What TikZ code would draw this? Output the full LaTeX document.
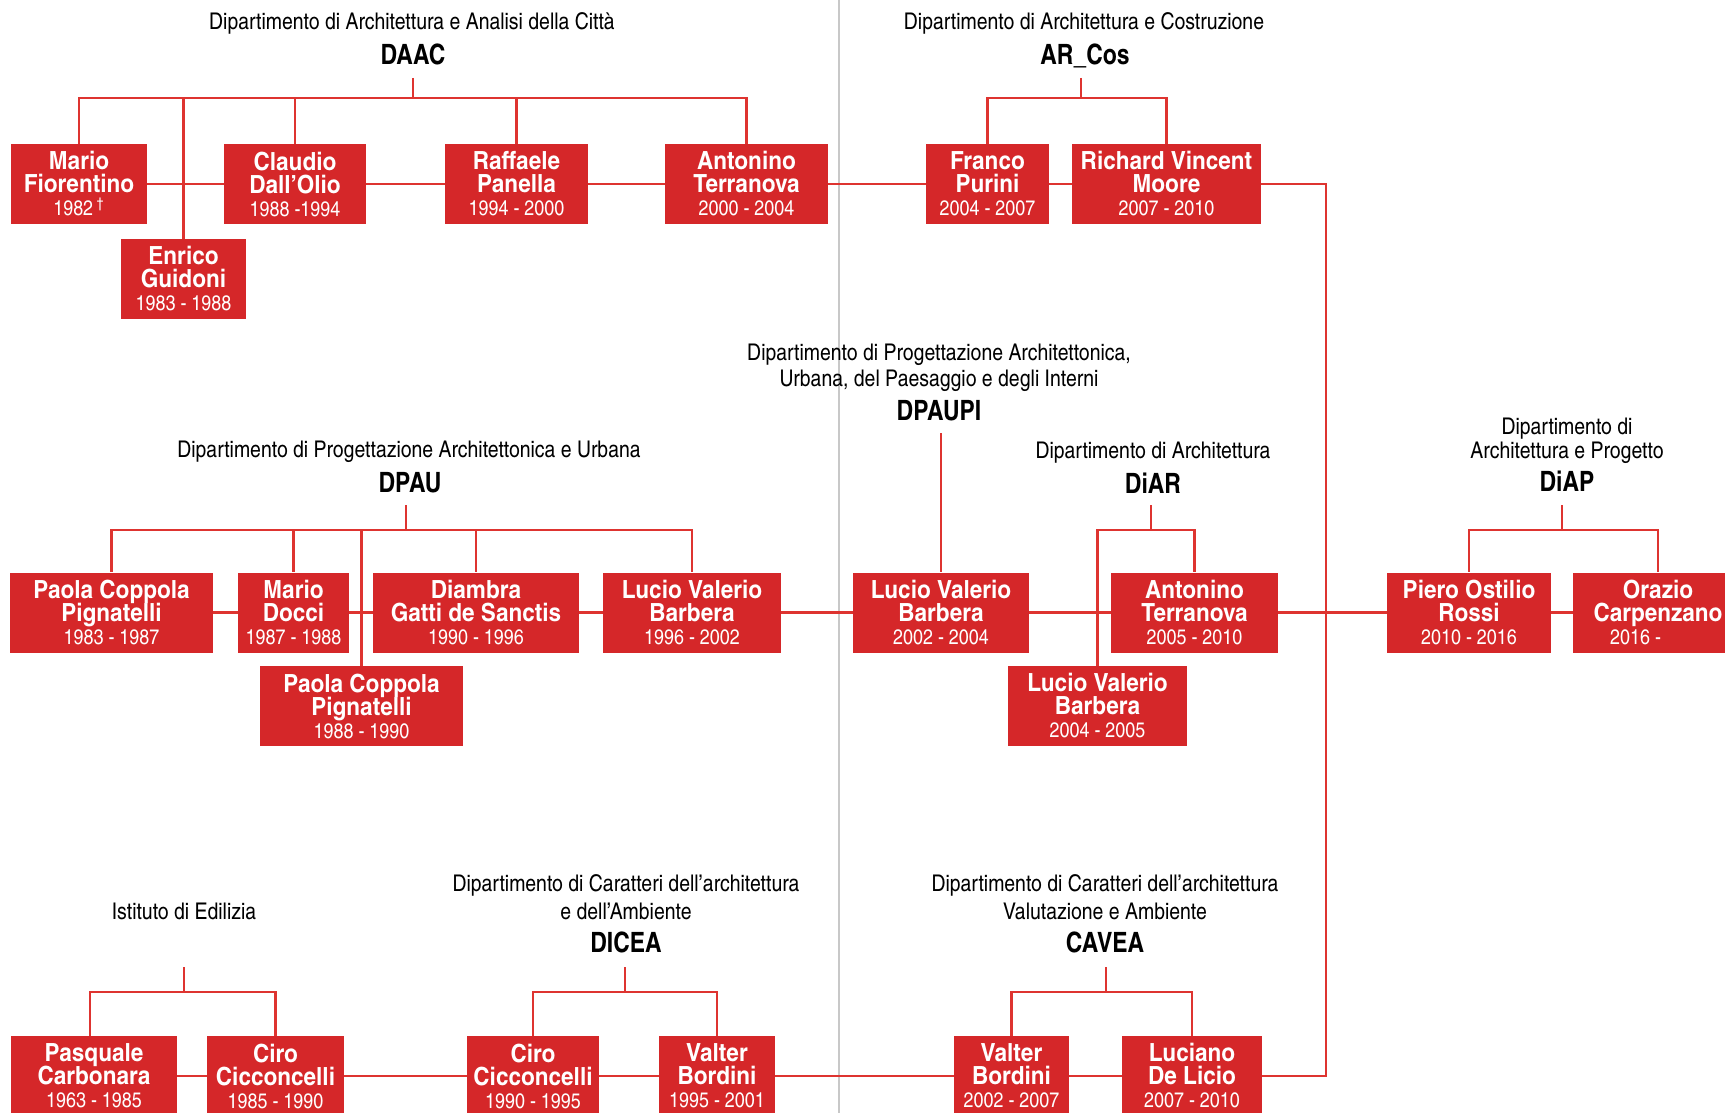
\documentclass[tikz,border=0pt]{standalone}
\usepackage{fontspec}
\setmainfont{texgyreheroscn-regular.otf}[BoldFont=texgyreheroscn-bold.otf]
\newfontfamily\ttlfam{texgyreheroscn-regular.otf}[FakeStretch=1.03]
\newfontfamily\namefam{texgyreheroscn-bold.otf}[FakeStretch=1.1]
\newfontfamily\yearfam{texgyreheroscn-regular.otf}[FakeStretch=1.04]
\definecolor{boxred}{RGB}{213,39,41}
\definecolor{linkred}{RGB}{222,52,48}
\definecolor{sepgray}{RGB}{200,200,200}
\newcommand\nmfont{\fontsize{12.5pt}{11.5pt}\namefam\lineskiplimit=-10pt}
\newcommand\yrfnt{\fontsize{10.5pt}{11.5pt}\yearfam}
\newcommand\ttlfnt{\fontsize{11.5pt}{13pt}\ttlfam}
\newcommand\acrfnt{\fontsize{14pt}{16pt}\selectfont\bfseries}
\tikzset{
  box/.style={fill=boxred, text=white, font=\nmfont, align=center, inner sep=0pt, minimum height=40pt},
  bw/.style={minimum width=#1*0.5pt},
  link/.style={draw=linkred, line width=1.2pt},
  ttl/.style={font=\ttlfnt, anchor=base, inner sep=0pt},
  acr/.style={font=\acrfnt, anchor=base, inner sep=0pt},
}
\begin{document}
\begin{tikzpicture}[x=0.5pt, y=-0.5pt]
\useasboundingbox (0,0) rectangle (1725,1113);
% separator
\coordinate (septop) at (839,0);
\coordinate (sepbot) at (839,1113);
\draw[sepgray, line width=0.75pt] (septop) -- (sepbot);

% ---------- titles ----------
\node[ttl] (t1) at (412,30) {Dipartimento di Architettura e Analisi della Città};
\node[acr] (daac) at (413,65) {DAAC};
\node[ttl] (t2) at (1084,30) {Dipartimento di Architettura e Costruzione};
\node[acr] (arcos) at (1085,65) {AR\_Cos};
\node[ttl] (t3) at (409,457) {Dipartimento di Progettazione Architettonica e Urbana};
\node[acr] (dpau) at (410,492) {DPAU};
\node[ttl] (t4a) at (939,360) {Dipartimento di Progettazione Architettonica,};
\node[ttl] (t4b) at (939,386) {Urbana, del Paesaggio e degli Interni};
\node[acr] (dpaupi) at (939,420) {DPAUPI};
\node[ttl] (t5) at (1153,458) {Dipartimento di Architettura};
\node[acr] (diar) at (1153,493) {DiAR};
\node[ttl] (t6a) at (1567,434) {Dipartimento di};
\node[ttl] (t6b) at (1567,458) {Architettura e Progetto};
\node[acr] (diap) at (1567,491) {DiAP};
\node[ttl] (t7) at (184,919) {Istituto di Edilizia};
\node[ttl] (t8a) at (626,891) {Dipartimento di Caratteri dell’architettura};
\node[ttl] (t8b) at (626,919) {e dell’Ambiente};
\node[acr] (dicea) at (626,952) {DICEA};
\node[ttl] (t9a) at (1105,891) {Dipartimento di Caratteri dell’architettura};
\node[ttl] (t9b) at (1105,919) {Valutazione e Ambiente};
\node[acr] (cavea) at (1105,952) {CAVEA};

% ---------- boxes row 1 ----------
\node[box, bw=136] (mario) at (79,184) {Mario\\Fiorentino\\{\yrfnt 1982\,\textsuperscript{\textdagger}}};
\node[box, bw=125] (enrico) at (183.5,279) {Enrico\\Guidoni\\{\yrfnt 1983 - 1988}};
\node[box, bw=142] (claudio) at (295,184) {Claudio\\Dall’Olio\\{\yrfnt 1988 -1994}};
\node[box, bw=143] (raffaele) at (516.5,184) {Raffaele\\Panella\\{\yrfnt 1994 - 2000}};
\node[box, bw=163] (antonA) at (746.5,184) {Antonino\\Terranova\\{\yrfnt 2000 - 2004}};
\node[box, bw=123] (franco) at (987.5,184) {Franco\\Purini\\{\yrfnt 2004 - 2007}};
\node[box, bw=189] (richard) at (1166.5,184) {Richard Vincent\\Moore\\{\yrfnt 2007 - 2010}};

% ---------- boxes row 2 ----------
\node[box, bw=203] (paolaA) at (111.5,612.5) {Paola Coppola\\Pignatelli\\{\yrfnt 1983 - 1987}};
\node[box, bw=111] (docci) at (293.5,612.5) {Mario\\Docci\\{\yrfnt 1987 - 1988}};
\node[box, bw=203] (paolaB) at (361.5,706) {Paola Coppola\\Pignatelli\\{\yrfnt 1988 - 1990}};
\node[box, bw=206] (diambra) at (476,612.5) {Diambra\\Gatti de Sanctis\\{\yrfnt 1990 - 1996}};
\node[box, bw=178] (lucioA) at (692,612.5) {Lucio Valerio\\Barbera\\{\yrfnt 1996 - 2002}};
\node[box, bw=176] (lucioB) at (941,612.5) {Lucio Valerio\\Barbera\\{\yrfnt 2002 - 2004}};
\node[box, bw=179] (lucioC) at (1097.5,706) {Lucio Valerio\\Barbera\\{\yrfnt 2004 - 2005}};
\node[box, bw=167] (antonB) at (1194.5,612.5) {Antonino\\Terranova\\{\yrfnt 2005 - 2010}};
\node[box, bw=164] (piero) at (1469,612.5) {Piero Ostilio\\Rossi\\{\yrfnt 2010 - 2016}};
\node[box, bw=170] (orazio) at (1658,612.5) {Orazio\\Carpenzano\\{\yrfnt 2016 -\phantom{ 2020}}};

% ---------- boxes row 3 ----------
\node[box, bw=166] (pasquale) at (94,1076) {Pasquale\\Carbonara\\{\yrfnt 1963 - 1985}};
\node[box, bw=137] (ciroA) at (275.5,1076) {Ciro\\Cicconcelli\\{\yrfnt 1985 - 1990}};
\node[box, bw=132] (ciroB) at (533,1076) {Ciro\\Cicconcelli\\{\yrfnt 1990 - 1995}};
\node[box, bw=116] (valterA) at (717,1076) {Valter\\Bordini\\{\yrfnt 1995 - 2001}};
\node[box, bw=115] (valterB) at (1011.5,1076) {Valter\\Bordini\\{\yrfnt 2002 - 2007}};
\node[box, bw=140] (luciano) at (1192,1076) {Luciano\\De Licio\\{\yrfnt 2007 - 2010}};

% ---------- tree connectors ----------
\coordinate (daacS) at (413,78);   \coordinate (daacJ) at (413,98);
\coordinate (arcosS) at (1081,78); \coordinate (arcosJ) at (1081,98);
\coordinate (dpauS) at (406,505);  \coordinate (dpauJ) at (406,530);
\coordinate (dpaupiS) at (941,433);
\coordinate (diarS) at (1151,505); \coordinate (diarJ) at (1151,530);
\coordinate (diapS) at (1562,505); \coordinate (diapJ) at (1562,530);
\coordinate (istS) at (184,967);   \coordinate (istJ) at (184,992);
\coordinate (diceaS) at (625,967); \coordinate (diceaJ) at (625,992);
\coordinate (caveaS) at (1106,967);\coordinate (caveaJ) at (1106,992);

\draw[link] (daacS) -- (daacJ);
\draw[link] (daacJ) -| (mario.north);
\draw[link] (daacJ) -| (enrico.north);
\draw[link] (daacJ) -| (claudio.north);
\draw[link] (daacJ) -| (raffaele.north);
\draw[link] (daacJ) -| (antonA.north);

\draw[link] (arcosS) -- (arcosJ);
\draw[link] (arcosJ) -| (franco.north);
\draw[link] (arcosJ) -| (richard.north);

\draw[link] (dpauS) -- (dpauJ);
\draw[link] (dpauJ) -| (paolaA.north);
\draw[link] (dpauJ) -| (docci.north);
\draw[link] (dpauJ) -| (paolaB.north);
\draw[link] (dpauJ) -| (diambra.north);
\draw[link] (dpauJ) -| (lucioA.north);

\draw[link] (dpaupiS) -- (lucioB.north);

\draw[link] (diarS) -- (diarJ);
\draw[link] (diarJ) -| (lucioC.north);
\draw[link] (diarJ) -| (antonB.north);

\draw[link] (diapS) -- (diapJ);
\draw[link] (diapJ) -| (piero.north);
\draw[link] (diapJ) -| (orazio.north);

\draw[link] (istS) -- (istJ);
\draw[link] (istJ) -| ([xshift=-2pt]pasquale.north);
\draw[link] (istJ) -| (ciroA.north);

\draw[link] (diceaS) -- (diceaJ);
\draw[link] (diceaJ) -| (ciroB.north);
\draw[link] (diceaJ) -| (valterA.north);

\draw[link] (caveaS) -- (caveaJ);
\draw[link] (caveaJ) -| (valterB.north);
\draw[link] (caveaJ) -| (luciano.north);

% ---------- succession chains ----------
\draw[link] (mario.east) -- (claudio.west);
\draw[link] (claudio.east) -- (raffaele.west);
\draw[link] (raffaele.east) -- (antonA.west);
\draw[link] (antonA.east) -- (franco.west);
\draw[link] (franco.east) -- (richard.west);

\draw[link] (paolaA.east) -- (docci.west);
\draw[link] (docci.east) -- (diambra.west);
\draw[link] (diambra.east) -- (lucioA.west);
\draw[link] (lucioA.east) -- (lucioB.west);
\draw[link] (lucioB.east) -- (antonB.west);
\draw[link] (antonB.east) -- (piero.west);
\draw[link] (piero.east) -- (orazio.west);

\draw[link] (pasquale.east) -- (ciroA.west);
\draw[link] (ciroA.east) -- (ciroB.west);
\draw[link] (ciroB.east) -- (valterA.west);
\draw[link] (valterA.east) -- (valterB.west);
\draw[link] (valterB.east) -- (luciano.west);

\coordinate (linkx) at (1326,600);
\draw[link] (richard.east) -- (richard.east -| linkx) -- (luciano.east -| linkx) -- (luciano.east);
\end{tikzpicture}
\end{document}
